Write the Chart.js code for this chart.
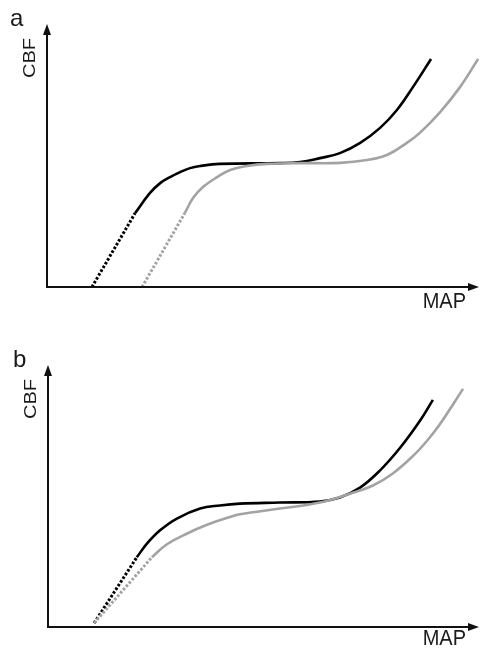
<!DOCTYPE html>
<html>
<head>
<meta charset="utf-8">
<script src="https://cdn.jsdelivr.net/npm/chart.js@4.4.1/dist/chart.umd.min.js"></script>
<style>
  html, body { margin: 0; padding: 0; background: #fff; }
  canvas { display: block; }
</style>
</head>
<body>
<canvas id="panelA" width="480" height="325"></canvas>
<canvas id="panelB" width="480" height="326"></canvas>
<script>
// axis labels
const X_TITLE = 'MAP';
const Y_TITLE = 'CBF';

// panel a (arbitrary units, 0-100 on both axes)
const aBlackDotMAP = [10.4, 20.4];
const aBlackDotCBF = [0, 28.1];
const aBlackMAP = [20.4, 23.8, 26.2, 28.5, 30.8, 33.1, 35.4, 40.0, 53.9, 58.6, 63.2, 67.8, 72.5, 77.1, 81.0, 84.7, 88.9];
const aBlackCBF = [28.1, 35.7, 39.5, 41.8, 43.7, 45.2, 46.0, 46.8, 47.1, 47.5, 49.0, 50.9, 54.8, 60.5, 67.3, 76.0, 86.7];
const aGrayDotMAP = [22.0, 31.9];
const aGrayDotCBF = [0, 28.1];
const aGrayMAP = [31.9, 33.8, 36.1, 39.4, 42.4, 46.3, 50.9, 58.6, 67.8, 74.1, 78.7, 83.3, 86.3, 91.0, 95.6, 99.8];
const aGrayCBF = [28.1, 33.8, 38.0, 41.8, 44.5, 46.0, 46.8, 47.1, 47.2, 48.3, 50.2, 54.8, 58.6, 66.5, 76.0, 86.7];

// panel b
const bBlackDotMAP = [10.7, 20.6];
const bBlackDotCBF = [1.5, 26.6];
const bBlackMAP = [20.6, 23.0, 26.0, 29.9, 35.3, 39.9, 44.5, 53.8, 63.1, 67.7, 72.4, 77.0, 81.7, 86.3, 89.3];
const bBlackCBF = [26.6, 31.9, 36.9, 41.4, 45.2, 46.4, 47.1, 47.5, 47.9, 49.4, 53.2, 59.7, 68.4, 78.7, 86.7];
const bGrayDotMAP = [10.7, 24.1];
const bGrayDotCBF = [1.5, 26.6];
const bGrayMAP = [24.1, 27.6, 32.3, 36.9, 41.5, 44.5, 53.8, 63.1, 70.1, 75.4, 80.0, 84.7, 87.9, 91.0, 96.3];
const bGrayCBF = [26.6, 31.6, 35.7, 39.0, 41.6, 43.0, 45.2, 47.5, 50.9, 54.0, 58.6, 65.3, 71.0, 77.6, 90.9];

const BLACK = '#000000';
const GRAY = '#a3a3a3';
const FONT = '"Liberation Sans", Arial, sans-serif';

function pts(xs, ys) {
  return xs.map((x, i) => ({ x: x, y: ys[i] }));
}

function solid(xs, ys, color) {
  return {
    data: pts(xs, ys),
    showLine: true,
    borderColor: color,
    borderWidth: 2.6,
    pointRadius: 0,
    tension: 0.4
  };
}

function dotted(xs, ys, color) {
  return {
    data: pts(xs, ys),
    showLine: true,
    borderColor: color,
    borderWidth: 3,
    borderDash: [2.6, 1.8],
    borderCapStyle: 'butt',
    pointRadius: 0
  };
}

// axes with arrow heads, axis titles and the panel letter
const arrowAxes = {
  id: 'arrowAxes',
  afterDraw(chart, args, opts) {
    const ctx = chart.ctx;
    const xs = chart.scales.x, ys = chart.scales.y;
    const x0 = xs.getPixelForValue(xs.min);
    const x1 = xs.getPixelForValue(xs.max);
    const y0 = ys.getPixelForValue(ys.min);
    const y1 = ys.getPixelForValue(ys.max);
    ctx.save();
    ctx.strokeStyle = '#111';
    ctx.fillStyle = '#111';
    ctx.lineWidth = 2;
    ctx.beginPath();
    ctx.moveTo(x0, y1 + 6);
    ctx.lineTo(x0, y0);
    ctx.lineTo(x1 - 6, y0);
    ctx.stroke();
    // y arrow
    ctx.beginPath();
    ctx.moveTo(x0, y1);
    ctx.lineTo(x0 - 4, y1 + 11);
    ctx.lineTo(x0 + 4, y1 + 11);
    ctx.closePath();
    ctx.fill();
    // x arrow
    ctx.beginPath();
    ctx.moveTo(x1, y0);
    ctx.lineTo(x1 - 11, y0 - 4);
    ctx.lineTo(x1 - 11, y0 + 4);
    ctx.closePath();
    ctx.fill();

    ctx.fillStyle = '#1a1a1a';
    // x title
    ctx.font = '20px ' + FONT;
    ctx.textAlign = 'right';
    ctx.textBaseline = 'alphabetic';
    ctx.save();
    ctx.translate(x1 - 13, y0 + opts.mapDy);
    ctx.scale(1, 1.08);
    ctx.fillText(X_TITLE, 0, 0);
    ctx.restore();
    // y title
    ctx.save();
    ctx.translate(x0 - 17, y1 + 34);
    ctx.rotate(-Math.PI / 2);
    ctx.scale(1, 0.85);
    ctx.textAlign = 'center';
    ctx.textBaseline = 'middle';
    ctx.font = '20px ' + FONT;
    ctx.fillText(Y_TITLE, 0, 0);
    ctx.restore();
    // panel letter
    ctx.font = '24px ' + FONT;
    ctx.textAlign = 'left';
    ctx.fillText(opts.letter, opts.letterX, y1 + 2);
    ctx.restore();
  }
};

function makePanel(id, datasets, padding, letter, letterX, mapDy) {
  new Chart(document.getElementById(id), {
    type: 'scatter',
    data: { datasets: datasets },
    options: {
      responsive: false,
      animation: false,
      layout: { padding: padding },
      plugins: {
        legend: { display: false },
        tooltip: { enabled: false },
        arrowAxes: { letter: letter, letterX: letterX, mapDy: mapDy }
      },
      scales: {
        x: { type: 'linear', min: 0, max: 100, display: false },
        y: { type: 'linear', min: 0, max: 100, display: false }
      }
    },
    plugins: [arrowAxes]
  });
}

makePanel('panelA', [
  dotted(aGrayDotMAP, aGrayDotCBF, GRAY),
  solid(aGrayMAP, aGrayCBF, GRAY),
  dotted(aBlackDotMAP, aBlackDotCBF, BLACK),
  solid(aBlackMAP, aBlackCBF, BLACK)
], { left: 47, top: 24, right: 1, bottom: 38 }, 'a', 10, 21);

makePanel('panelB', [
  dotted(bGrayDotMAP, bGrayDotCBF, GRAY),
  solid(bGrayMAP, bGrayCBF, GRAY),
  dotted(bBlackDotMAP, bBlackDotCBF, BLACK),
  solid(bBlackMAP, bBlackCBF, BLACK)
], { left: 48, top: 40, right: 1, bottom: 24 }, 'b', 13, 18);
</script>
</body>
</html>
